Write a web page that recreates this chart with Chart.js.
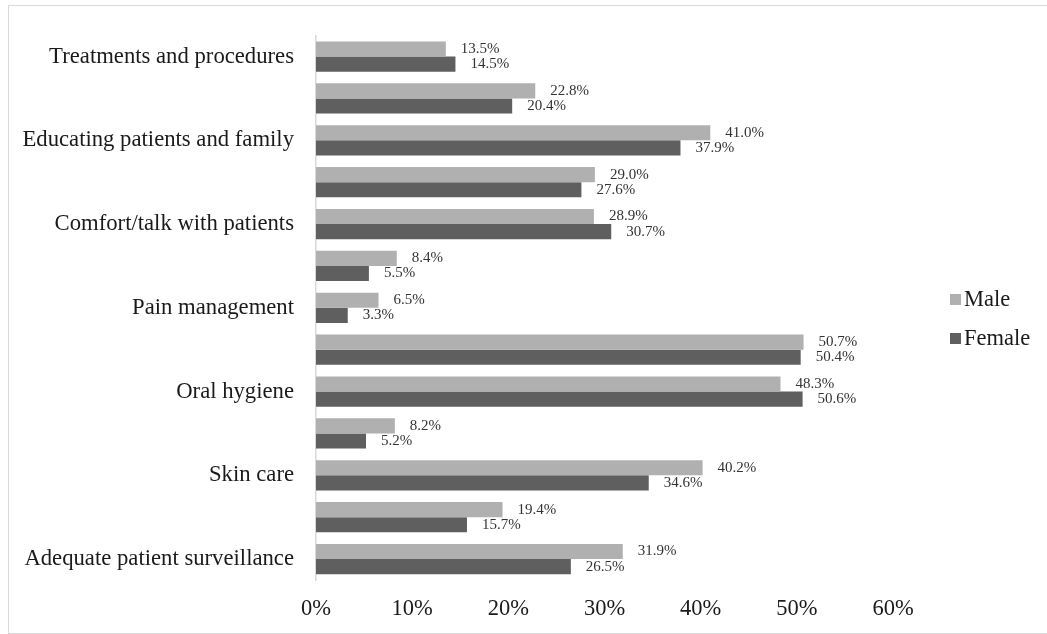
<!DOCTYPE html>
<html>
<head>
<meta charset="utf-8">
<script src="https://cdn.jsdelivr.net/npm/chart.js@4"></script>
<style>
  body { margin: 0; background: #fff; }
  #frame { position: absolute; left: 8px; top: 5px; width: 1050px; height: 627px; border: 1px solid #d9d9d9; border-right: none; }
  #wrap { position: absolute; left: 0; top: 0; width: 1047px; height: 634px; }
</style>
</head>
<body>
<div id="frame"></div>
<div id="wrap"><canvas id="chart"></canvas></div>
<script>
const categories = [
  'Treatments and procedures', '',
  'Educating patients and family', '',
  'Comfort/talk with patients', '',
  'Pain management', '',
  'Oral hygiene', '',
  'Skin care', '',
  'Adequate patient surveillance'
];
const seriesNames = ['Male', 'Female'];
const maleValues = [13.5, 22.8, 41.0, 29.0, 28.9, 8.4, 6.5, 50.7, 48.3, 8.2, 40.2, 19.4, 31.9];
const femaleValues = [14.5, 20.4, 37.9, 27.6, 30.7, 5.5, 3.3, 50.4, 50.6, 5.2, 34.6, 15.7, 26.5];
const xTicks = [0, 10, 20, 30, 40, 50, 60];

const FONT = "'Liberation Serif', 'Times New Roman', serif";
const colors = ['#b0b0b0', '#5f5f5f'];

// value labels at the end of each bar
const barLabels = {
  id: 'barLabels',
  afterDatasetsDraw(chart) {
    const ctx = chart.ctx;
    ctx.save();
    ctx.font = `15px ${FONT}`;
    ctx.fillStyle = '#333';
    ctx.textAlign = 'left';
    ctx.textBaseline = 'middle';
    chart.data.datasets.forEach((ds, i) => {
      chart.getDatasetMeta(i).data.forEach((bar, j) => {
        ctx.fillText(ds.data[j].toFixed(1) + '%', bar.x + 15, bar.y);
      });
    });
    ctx.restore();
  }
};

// legend on the right, like the Excel one
const sideLegend = {
  id: 'sideLegend',
  afterDraw(chart) {
    const ctx = chart.ctx;
    ctx.save();
    ctx.font = `22.5px ${FONT}`;
    ctx.textBaseline = 'middle';
    ctx.textAlign = 'left';
    const ys = [300, 339];
    seriesNames.forEach((name, i) => {
      ctx.fillStyle = colors[i];
      ctx.fillRect(950, ys[i] - 6, 11, 11);
      ctx.fillStyle = '#1a1a1a';
      ctx.fillText(name, 964, ys[i]);
    });
    ctx.restore();
  }
};

new Chart(document.getElementById('chart'), {
  type: 'bar',
  data: {
    labels: categories,
    datasets: [
      { label: seriesNames[0], data: maleValues, backgroundColor: colors[0] },
      { label: seriesNames[1], data: femaleValues, backgroundColor: colors[1] }
    ]
  },
  options: {
    indexAxis: 'y',
    responsive: true,
    maintainAspectRatio: false,
    animation: false,
    layout: { padding: { top: 31, right: 154, left: 0, bottom: 0 } },
    datasets: { bar: { categoryPercentage: 0.72, barPercentage: 1.0 } },
    plugins: { legend: { display: false }, tooltip: { enabled: false } },
    scales: {
      x: {
        min: 0, max: 60,
        afterBuildTicks: s => { s.ticks = xTicks.map(v => ({ value: v })); },
        grid: { display: false, drawTicks: false },
        border: { display: false },
        ticks: {
          padding: 16,
          color: '#1a1a1a',
          font: { family: FONT, size: 22.5 },
          callback: v => v + '%'
        },
        afterFit: s => { s.height = 54; }
      },
      y: {
        grid: { display: false, drawTicks: false },
        border: { display: true, color: '#d9d9d9', width: 1.5 },
        ticks: {
          autoSkip: false,
          padding: 22,
          color: '#1a1a1a',
          font: { family: FONT, size: 22.7 }
        },
        afterFit: s => { s.width = 316; }
      }
    }
  },
  plugins: [barLabels, sideLegend]
});
</script>
</body>
</html>
